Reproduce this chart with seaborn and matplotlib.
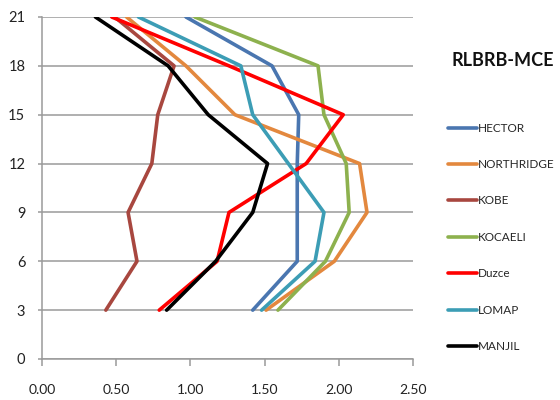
import matplotlib
matplotlib.use("Agg")
import matplotlib.pyplot as plt
import seaborn as sns
import pandas as pd

# Storey levels and peak response per ground motion record
levels = [3, 6, 9, 12, 15, 18, 21]
hector = [1.42, 1.72, 1.72, 1.72, 1.73, 1.55, 0.97]
northridge = [1.51, 1.97, 2.19, 2.14, 1.30, 0.97, 0.57]
kobe = [0.43, 0.64, 0.58, 0.74, 0.78, 0.89, 0.49]
kocaeli = [1.59, 1.91, 2.07, 2.05, 1.90, 1.86, 1.03]
duzce = [0.79, 1.18, 1.26, 1.78, 2.03, 1.26, 0.47]
lomap = [1.48, 1.84, 1.90, 1.66, 1.42, 1.34, 0.65]
manjil = [0.84, 1.17, 1.42, 1.52, 1.12, 0.85, 0.36]

records = ["HECTOR", "NORTHRIDGE", "KOBE", "KOCAELI", "Duzce", "LOMAP", "MANJIL"]
series = [hector, northridge, kobe, kocaeli, duzce, lomap, manjil]
colors = ["#4A76B0", "#E3883E", "#A8473F", "#8DB14E", "#FF0000", "#3C9DB5", "#000000"]

x_ticks = [0.0, 0.5, 1.0, 1.5, 2.0, 2.5]
y_ticks = [0, 3, 6, 9, 12, 15, 18, 21]

df = pd.DataFrame(
    [(rec, lvl, val) for rec, vals in zip(records, series) for lvl, val in zip(levels, vals)],
    columns=["record", "level", "value"],
)

sns.set_style("white")
plt.rcParams["font.family"] = ["Lato", "DejaVu Sans"]

fig = plt.figure(figsize=(5.6, 4.0), dpi=100)
ax = fig.add_axes([0.075, 0.1025, 0.6625, 0.855])

sns.lineplot(
    data=df, x="value", y="level", hue="record", hue_order=records,
    palette=colors, orient="y", sort=False, estimator=None,
    linewidth=2.6, ax=ax, legend=True,
)

ax.set_xlim(0, 2.5)
ax.set_ylim(0, 21)
ax.set_xticks(x_ticks)
ax.set_xticklabels([f"{t:.2f}" for t in x_ticks])
ax.set_yticks(y_ticks)
ax.set_yticklabels([str(t) for t in y_ticks])
ax.set_xlabel("")
ax.set_ylabel("")

ax.grid(axis="y", color="#9A9A9A", linewidth=1.1)
ax.set_axisbelow(True)
for side in ["top", "right"]:
    ax.spines[side].set_visible(False)
for side in ["left", "bottom"]:
    ax.spines[side].set_color("#9A9A9A")
    ax.spines[side].set_linewidth(1.1)

ax.tick_params(axis="x", direction="out", length=5, width=1.1, color="#9A9A9A",
               pad=13, labelsize=10, labelcolor="#222222")
ax.tick_params(axis="y", direction="out", length=3, width=1.1, color="#9A9A9A",
               pad=9, labelsize=10.5, labelcolor="#222222")
ax.tick_params(axis="x", bottom=True)
ax.tick_params(axis="y", left=True)

handles, labels = ax.get_legend_handles_labels()
ax.legend(
    handles, labels, loc="upper left", bbox_to_anchor=(0.792, 0.705),
    bbox_transform=fig.transFigure, frameon=False, fontsize=8.5,
    handlelength=2.45, handletextpad=0.08, labelspacing=2.15, borderaxespad=0,
)

fig.text(0.898, 0.85, "RLBRB-MCE", ha="center", va="center",
         fontsize=13, fontweight="bold", color="#111111")

fig.savefig("out.png", dpi=100)
